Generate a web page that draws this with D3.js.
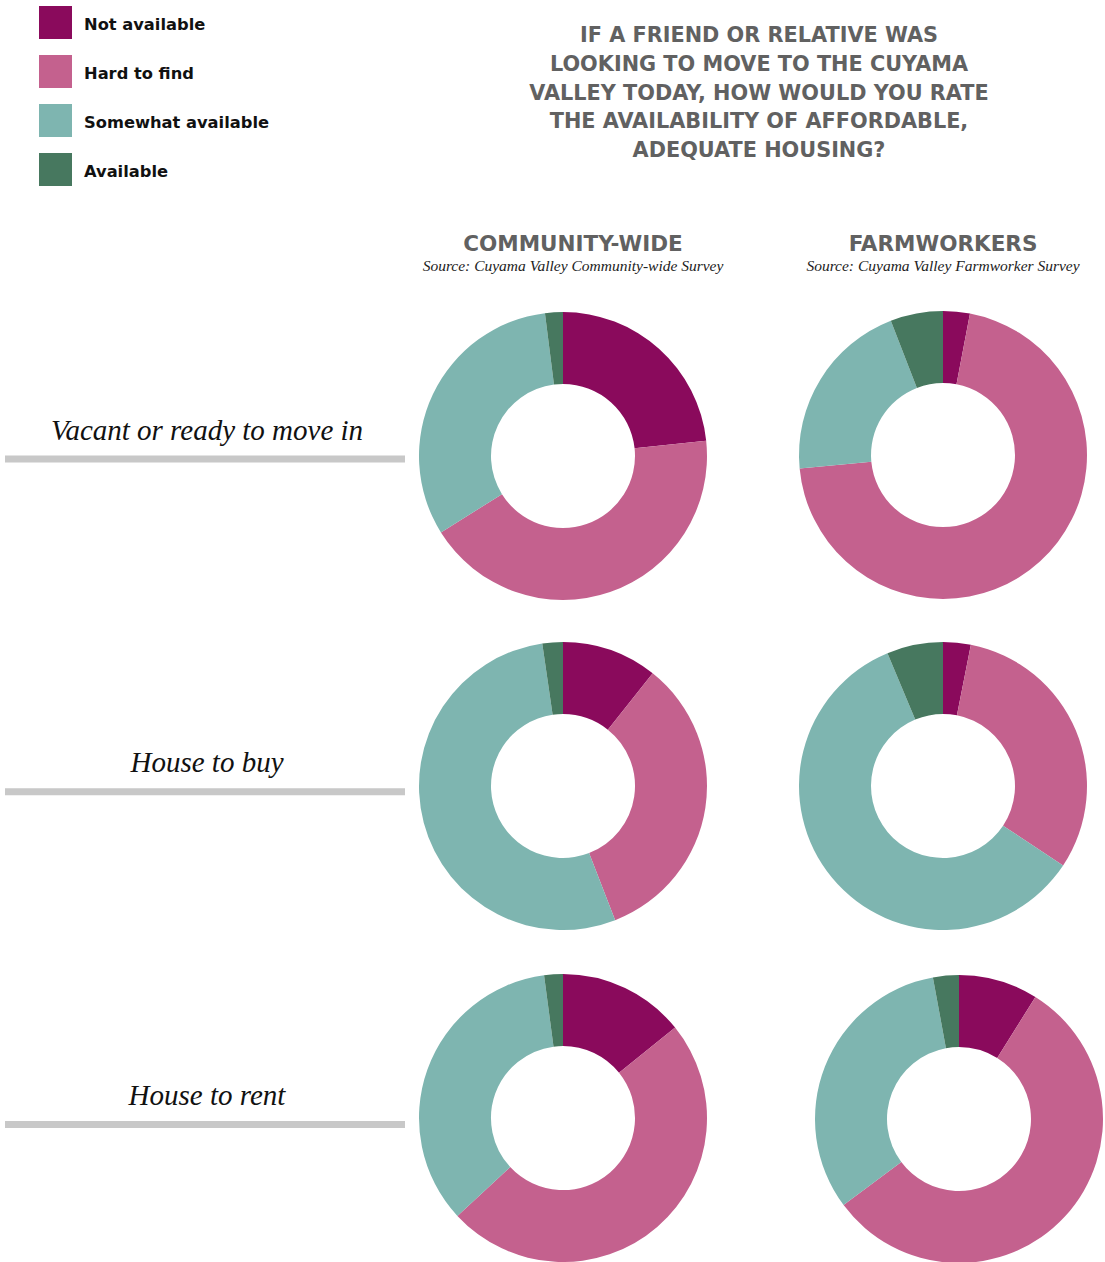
<!DOCTYPE html>
<html>
<head>
<meta charset="utf-8">
<script src="https://cdn.jsdelivr.net/npm/d3@7"></script>
<style>
  html, body { margin: 0; padding: 0; background: #fff; }
  svg { display: block; }
</style>
</head>
<body>
<script>
// Response categories, in the order the slices run clockwise from 12 o'clock
const categories = ["Not available", "Hard to find", "Somewhat available", "Available"];
const categoryColors = ["#8a0a5c", "#c4618e", "#7eb5b0", "#47785f"];

// Housing types (one row each)
const rowLabels = ["Vacant or ready to move in", "House to buy", "House to rent"];

// Survey groups (one column each)
const columnTitles = ["COMMUNITY-WIDE", "FARMWORKERS"];
const columnSources = [
  "Source: Cuyama Valley Community-wide Survey",
  "Source: Cuyama Valley Farmworker Survey"
];

// Share of responses (%) per housing type, community-wide survey
const communityVacant = [23.3, 42.8, 31.9, 2.0];
const communityBuy    = [10.7, 33.4, 53.6, 2.3];
const communityRent   = [14.2, 48.9, 34.8, 2.1];

// Share of responses (%) per housing type, farmworker survey
const farmVacant = [3.0, 70.5, 20.6, 5.9];
const farmBuy    = [3.1, 31.2, 59.4, 6.3];
const farmRent   = [8.9, 55.9, 32.3, 2.9];

const titleLines = [
  "IF A FRIEND OR RELATIVE WAS",
  "LOOKING TO MOVE TO THE CUYAMA",
  "VALLEY TODAY, HOW WOULD YOU RATE",
  "THE AVAILABILITY OF AFFORDABLE,",
  "ADEQUATE HOUSING?"
];

const width = 1105, height = 1262;
const sans = "'DejaVu Sans', Roboto, sans-serif";
const serif = "'Liberation Serif', 'DejaVu Serif', serif";

const svg = d3.select("body").append("svg")
  .attr("width", width).attr("height", height)
  .attr("viewBox", [0, 0, width, height]);

const color = d3.scaleOrdinal().domain(categories).range(categoryColors);

// ---- Legend ----
const legend = svg.append("g").attr("transform", "translate(39,6)");
const legendItem = legend.selectAll("g").data(categories).join("g")
  .attr("transform", (d, i) => `translate(0,${i * 49})`);
legendItem.append("rect")
  .attr("width", 33).attr("height", 33)
  .attr("fill", d => color(d));
legendItem.append("text")
  .attr("x", 45).attr("y", 24)
  .attr("font-family", sans)
  .attr("font-weight", 700)
  .attr("font-size", 16.3)
  .attr("fill", "#111")
  .text(d => d);

// ---- Title ----
svg.append("text")
  .attr("text-anchor", "middle")
  .attr("font-family", sans)
  .attr("font-weight", 700)
  .attr("font-size", 20.8)
  .attr("fill", "#616161")
  .selectAll("tspan").data(titleLines).join("tspan")
  .attr("x", 759)
  .attr("y", (d, i) => 42 + i * 28.8)
  .text(d => d);

// ---- Layout ----
const colX = d3.scaleOrdinal().domain(columnTitles).range([563, 943]);
const rowY = d3.scalePoint().domain(rowLabels).range([456, 1118]);
const ruleY = d3.scalePoint().domain(rowLabels).range([459, 1124.5]);

const outerR = 144, innerR = 72;
const pie = d3.pie().sort(null).value(d => d.value);
const arc = d3.arc().innerRadius(innerR).outerRadius(outerR);

// Column headers
const header = svg.append("g").selectAll("g").data(columnTitles).join("g")
  .attr("transform", d => `translate(${colX(d) + (d === columnTitles[0] ? 10 : 0)},0)`);
header.append("text")
  .attr("y", 251)
  .attr("text-anchor", "middle")
  .attr("font-family", sans)
  .attr("font-weight", 700)
  .attr("font-size", 21.5)
  .attr("fill", "#616161")
  .text(d => d);
header.append("text")
  .attr("y", 271)
  .attr("text-anchor", "middle")
  .attr("font-family", serif)
  .attr("font-style", "italic")
  .attr("font-size", 15.5)
  .attr("fill", "#222")
  .text((d, i) => columnSources[i]);

// Row labels and rules
const rows = svg.append("g").selectAll("g").data(rowLabels).join("g")
  .attr("transform", d => `translate(0,${ruleY(d)})`);
rows.append("rect")
  .attr("x", 5).attr("y", -3.5)
  .attr("width", 400).attr("height", 7)
  .attr("fill", "#c8c8c8");
rows.append("text")
  .attr("x", 207).attr("y", -19.5)
  .attr("text-anchor", "middle")
  .attr("font-family", serif)
  .attr("font-style", "italic")
  .attr("font-size", 29)
  .attr("fill", "#111")
  .text(d => d);

// ---- Donuts ----
const cells = [
  { col: 0, row: 0, values: communityVacant, dx: 0, dy: 0 },
  { col: 1, row: 0, values: farmVacant, dx: 0, dy: -1 },
  { col: 0, row: 1, values: communityBuy, dx: 0, dy: -1 },
  { col: 1, row: 1, values: farmBuy, dx: 0, dy: -1 },
  { col: 0, row: 2, values: communityRent, dx: 0, dy: 0 },
  { col: 1, row: 2, values: farmRent, dx: 16, dy: 1 }
];

const donut = svg.append("g").selectAll("g").data(cells).join("g")
  .attr("transform", c =>
    `translate(${colX(columnTitles[c.col]) + c.dx},${rowY(rowLabels[c.row]) + c.dy})`);

donut.selectAll("path")
  .data(c => pie(c.values.map((v, i) => ({ category: categories[i], value: v }))))
  .join("path")
  .attr("d", arc)
  .attr("fill", d => color(d.data.category));
</script>
</body>
</html>
